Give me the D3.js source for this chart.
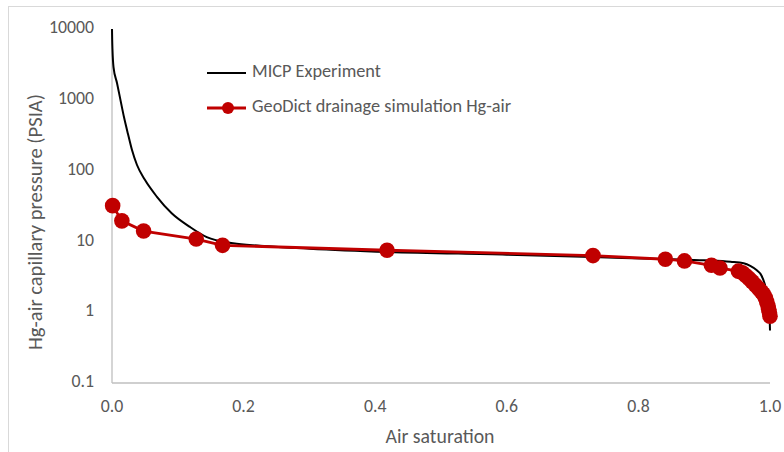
<!DOCTYPE html>
<html>
<head>
<meta charset="utf-8">
<script src="https://cdn.jsdelivr.net/npm/d3@7"></script>
<style>
  body { margin: 0; background: #fff; }
  svg { display: block; font-family: Calibri, Carlito, Lato, sans-serif; }
  .tick-label { fill: #595959; font-size: 17.8px; }
  .axis-title { fill: #595959; font-size: 19.8px; }
  .legend-label { fill: #595959; font-size: 18.3px; }
</style>
</head>
<body>
<div id="chart"></div>
<script>
// MICP experiment (black smooth curve)
const micpSat = [0, 0.0003, 0.00076, 0.0023, 0.0076, 0.0129, 0.0182, 0.0243, 0.0304, 0.038, 0.05, 0.068, 0.0907, 0.1185,
  0.144, 0.184, 0.225, 0.3, 0.42, 0.6, 0.73, 0.85, 0.9, 0.94, 0.96, 0.97, 0.98, 0.987,
  0.992, 0.996, 0.998, 0.9995, 1.0];
const micpPc = [10000, 7000, 5000, 2900, 1726, 990, 571, 329, 195, 120, 74, 43, 25, 16,
  11.5, 9.4, 8.7, 7.9, 7.1, 6.5, 6.0, 5.6, 5.4, 5.15, 4.9, 4.5, 3.9, 3.3,
  2.5, 1.7, 1.2, 0.8, 0.55];

// GeoDict drainage simulation (red line + markers)
const geoSat = [0.001, 0.015, 0.048, 0.128, 0.168, 0.418, 0.731, 0.841, 0.870, 0.911, 0.924,
  0.952, 0.958, 0.963, 0.968, 0.973, 0.978, 0.983, 0.987, 0.990, 0.993, 0.995, 0.997, 0.998, 0.999, 1.0];
const geoPc = [32, 19.5, 14, 10.8, 8.8, 7.5, 6.3, 5.6, 5.3, 4.6, 4.2,
  3.8, 3.6, 3.3, 3.0, 2.7, 2.4, 2.15, 1.95, 1.8, 1.6, 1.4, 1.22, 1.1, 1.0, 0.88];

const xTicks = [0, 0.2, 0.4, 0.6, 0.8, 1.0];
const yTicks = [0.1, 1, 10, 100, 1000, 10000];

const seriesNames = ["MICP Experiment", "GeoDict drainage simulation Hg-air"];

let width = 784,
    height = 452,
    margin = ({ top: 29, right: 14, bottom: 69, left: 112 });

const svg = d3.select("#chart")
  .append("svg")
  .attr("width", width)
  .attr("height", height);

// chart border (runs off the right / bottom of the picture)
svg.append("rect")
  .attr("x", 8.5)
  .attr("y", 6.5)
  .attr("width", width + 20)
  .attr("height", height + 20)
  .attr("fill", "none")
  .attr("stroke", "#d9d9d9");

let x = d3.scaleLinear()
  .domain([0, 1])
  .range([margin.left, width - margin.right]);

let y = d3.scaleLog()
  .domain([0.1, 10000])
  .range([height - margin.bottom, margin.top]);

// axis lines, no ticks
svg.append("line")
  .attr("x1", x(0)).attr("x2", x(0))
  .attr("y1", y(10000)).attr("y2", y(0.1))
  .attr("stroke", "#bfbfbf").attr("stroke-width", 1.3);
svg.append("line")
  .attr("x1", x(0)).attr("x2", x(1))
  .attr("y1", y(0.1)).attr("y2", y(0.1))
  .attr("stroke", "#bfbfbf").attr("stroke-width", 1.3);

svg.append("g")
  .selectAll("text")
  .data(yTicks)
  .join("text")
  .attr("class", "tick-label")
  .attr("x", x(0) - 18)
  .attr("y", d => y(d))
  .attr("text-anchor", "end")
  .attr("dominant-baseline", "middle")
  .text(d => d);

svg.append("g")
  .selectAll("text")
  .data(xTicks)
  .join("text")
  .attr("class", "tick-label")
  .attr("x", d => x(d))
  .attr("y", y(0.1) + 25)
  .attr("text-anchor", "middle")
  .attr("dominant-baseline", "middle")
  .text(d => d3.format(".1f")(d));

svg.append("text")
  .attr("class", "axis-title")
  .attr("x", 440)
  .attr("y", 443)
  .attr("text-anchor", "middle")
  .text("Air saturation");

svg.append("text")
  .attr("class", "axis-title")
  .attr("transform", "translate(42,222) rotate(-90)")
  .attr("text-anchor", "middle")
  .attr("textLength", 256)
  .attr("lengthAdjust", "spacingAndGlyphs")
  .text("Hg-air capillary pressure (PSIA)");

const micp = micpSat.map((s, i) => ({ s: s, p: micpPc[i] }));
const geo = geoSat.map((s, i) => ({ s: s, p: geoPc[i] }));

let smooth = d3.line()
  .x(d => x(d.s))
  .y(d => y(d.p))
  .curve(d3.curveMonotoneX);

let straight = d3.line()
  .x(d => x(d.s))
  .y(d => y(d.p));

svg.append("path")
  .datum(micp)
  .attr("fill", "none")
  .attr("stroke", "#000")
  .attr("stroke-width", 2)
  .attr("d", smooth);

svg.append("path")
  .datum(geo)
  .attr("fill", "none")
  .attr("stroke", "#c00000")
  .attr("stroke-width", 2.8)
  .attr("d", straight);

svg.append("g")
  .attr("fill", "#c00000")
  .selectAll("circle")
  .data(geo)
  .join("circle")
  .attr("cx", d => x(d.s))
  .attr("cy", d => y(d.p))
  .attr("r", 7.8);

// legend
let legend = svg.append("g").attr("transform", "translate(207,73)");
legend.append("line")
  .attr("x1", 0).attr("x2", 39).attr("y1", 0).attr("y2", 0)
  .attr("stroke", "#000").attr("stroke-width", 2);
legend.append("line")
  .attr("x1", 0).attr("x2", 39).attr("y1", 35).attr("y2", 35)
  .attr("stroke", "#c00000").attr("stroke-width", 2.8);
legend.append("circle")
  .attr("cx", 21).attr("cy", 35).attr("r", 6)
  .attr("fill", "#c00000");
legend.selectAll("text.legend-label")
  .data(seriesNames)
  .join("text")
  .attr("class", "legend-label")
  .attr("x", 45)
  .attr("y", (d, i) => i * 35)
  .attr("dominant-baseline", "middle")
  .text(d => d);
</script>
</body>
</html>
